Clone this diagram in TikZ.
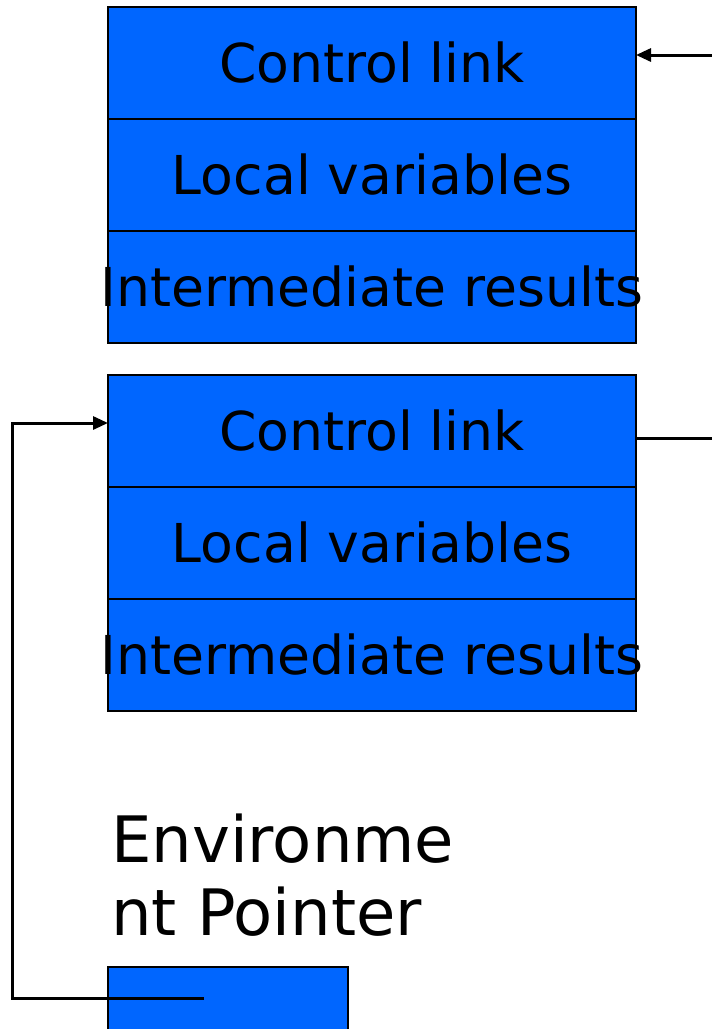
\documentclass[tikz,border=0pt]{standalone}
\usepackage{fontspec}
\setmainfont{DejaVu Sans}
\usetikzlibrary{arrows.meta,calc}
\definecolor{boxblue}{HTML}{0066FF}
\newcommand\celltext[1]{\makebox[0pt]{#1}}
\begin{document}
\begin{tikzpicture}[x=1pt,y=-1pt,
  cell/.style={draw=black,line width=1.5pt,fill=boxblue,minimum width=528pt,minimum height=112pt,inner sep=0pt,outer sep=0pt,anchor=north west,font=\fontsize{53.6}{64}\selectfont},
  conn/.style={draw=black,line width=3pt},
  tip/.style={-{Triangle[length=15pt,width=13pt]}}]
\useasboundingbox (0,0) rectangle (712,1029);
\clip (0,0) rectangle (712,1029);
% top frame
\node[cell] (cl1) at (108,7) {\celltext{Control link}};
\node[cell] (lv1) at (108,119) {\celltext{Local variables}};
\node[cell] (ir1) at (108,231) {\celltext{Intermediate results}};
% second frame
\node[cell] (cl2) at (108,375) {\celltext{Control link}};
\node[cell] (lv2) at (108,487) {\celltext{Local variables}};
\node[cell] (ir2) at (108,599) {\celltext{Intermediate results}};
% environment pointer
\node[anchor=base west,inner sep=0pt,align=left,font=\fontsize{64}{73}\selectfont] (eptxt) at (111,935) {Environme\\nt Pointer};
\node[draw=black,line width=2pt,fill=boxblue,minimum width=240pt,minimum height=80pt,inner sep=0pt,outer sep=0pt,anchor=north west] (ep) at (108,967) {};
% connectors
\coordinate (in1) at (712,55);
\coordinate (out2) at (712,438);
\coordinate (epdot) at (204,998);
\draw[conn,tip] (in1) -- (in1 -| cl1.east);
\draw[conn] ($(cl2.east)+(0,7)$) -- (out2);
\draw[conn,tip] (epdot) -- (12,998) -- (12,423) -- ($(cl2.west)+(0,-8)$);
\end{tikzpicture}
\end{document}
